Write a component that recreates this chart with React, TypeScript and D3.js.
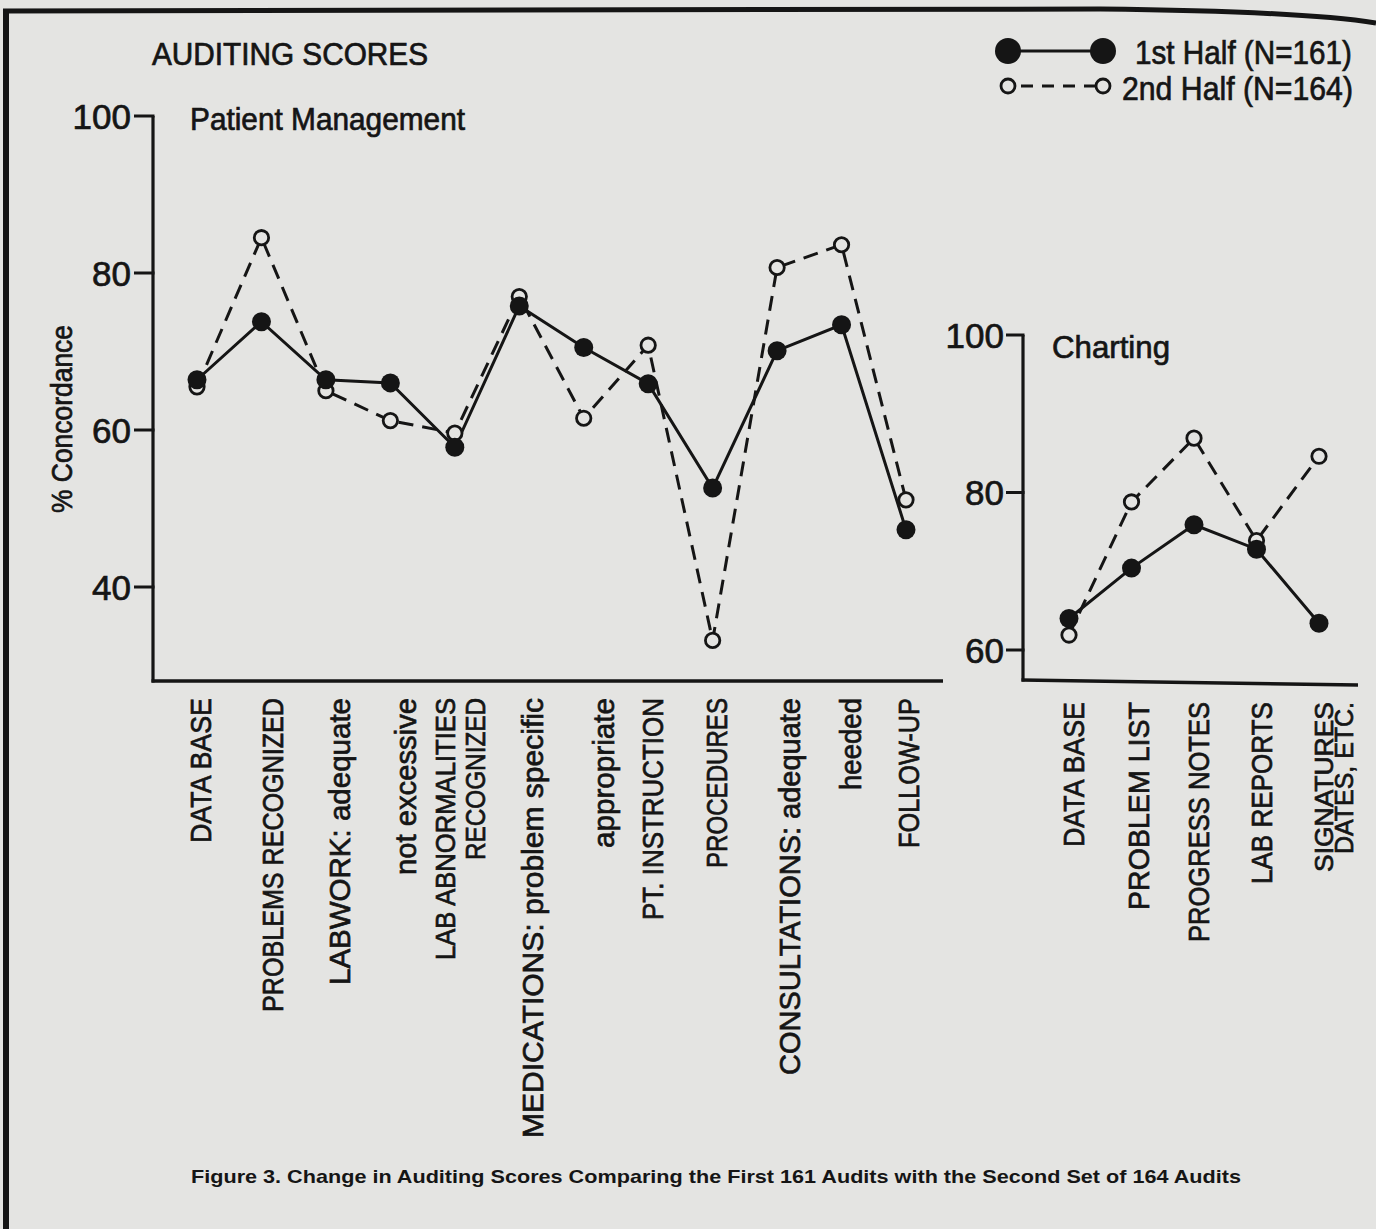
import React from 'react';
import * as d3 from 'd3';

// ---------- DATA ----------
const pmCategories = [
  'DATA BASE', 'PROBLEMS RECOGNIZED', 'LABWORK: adequate', 'not excessive',
  'LAB ABNORMALITIES RECOGNIZED', 'MEDICATIONS: problem specific', 'appropriate',
  'PT. INSTRUCTION', 'PROCEDURES', 'CONSULTATIONS: adequate', 'heeded', 'FOLLOW-UP',
];
const pmLabelLines = [
  ['DATA BASE'], ['PROBLEMS RECOGNIZED'], ['LABWORK: adequate'], ['not excessive'],
  ['LAB ABNORMALITIES', 'RECOGNIZED'], ['MEDICATIONS: problem specific'], ['appropriate'],
  ['PT. INSTRUCTION'], ['PROCEDURES'], ['CONSULTATIONS: adequate'], ['heeded'], ['FOLLOW-UP'],
];
const pmFirstHalf = [66.4, 73.8, 66.4, 66.0, 57.8, 75.8, 70.5, 65.9, 52.6, 70.1, 73.4, 47.3];
const pmSecondHalf = [65.5, 84.5, 65.0, 61.2, 59.6, 77.0, 61.5, 70.8, 33.2, 80.7, 83.6, 51.1];
const pmTicks = [100, 80, 60, 40];

const chCategories = ['DATA BASE', 'PROBLEM LIST', 'PROGRESS NOTES', 'LAB REPORTS', 'SIGNATURES DATES, ETC.'];
const chLabelLines = [['DATA BASE'], ['PROBLEM LIST'], ['PROGRESS NOTES'], ['LAB REPORTS'], ['SIGNATURES', 'DATES, ETC.']];
const chFirstHalf = [64.0, 70.4, 75.9, 72.8, 63.4];
const chSecondHalf = [61.9, 78.8, 86.9, 73.9, 84.6];
const chTicks = [100, 80, 60];

const legendLabels = ['1st Half (N=161)', '2nd Half (N=164)'];
const titleText = 'AUDITING SCORES';
const pmTitle = 'Patient Management';
const chTitle = 'Charting';
const yAxisTitle = '% Concordance';
const caption = 'Figure 3. Change in Auditing Scores Comparing the First 161 Audits with the Second Set of 164 Audits';

// ---------- LAYOUT (positions / sizes only) ----------
const pmLabelLayout = [
  [{ dx: 3, len: 145, fs: 30 }], [{ dx: 11, len: 314, fs: 30 }], [{ dx: 13, len: 287, fs: 30 }], [{ dx: 15, len: 177, fs: 30 }],
  [{ dx: -10, len: 262, fs: 28 }, { dx: 20, len: 162, fs: 28 }], [{ dx: 13, len: 440, fs: 30 }], [{ dx: 19, len: 150, fs: 30 }],
  [{ dx: 4, len: 222, fs: 30 }], [{ dx: 4, len: 170, fs: 30 }], [{ dx: 12, len: 377, fs: 30 }], [{ dx: 9, len: 92, fs: 30 }], [{ dx: 2, len: 150, fs: 30 }],
];
const chLabelLayout = [
  [{ dx: 4, len: 145, fs: 30 }], [{ dx: 7, len: 208, fs: 30 }], [{ dx: 4, len: 240, fs: 30 }], [{ dx: 5, len: 182, fs: 30 }],
  [{ dx: 5, len: 170, fs: 25 }, { dx: 25, len: 152, fs: 25 }],
];

const BG = '#e4e4e2';
const INK = '#151515';
const FONT = '"Liberation Sans", Arial, sans-serif';
const TXT = { fill: INK, stroke: INK, strokeWidth: 0.7 };

function Panel({ cats, lines, layout, first, second, ticks, xRange, yDomain, yRange, axisX, axisTop, axisBottomY, axisRightX, axisRightY, tickLen, labelEnd, labelTop }) {
  const x = d3.scalePoint().domain(cats).range(xRange);
  const y = d3.scaleLinear().domain(yDomain).range(yRange);
  const line = d3.line().x((d) => d[0]).y((d) => d[1]);
  const p1 = cats.map((c, i) => [x(c), y(first[i])]);
  const p2 = cats.map((c, i) => [x(c), y(second[i])]);
  return (
    <g>
      {/* axes */}
      <line x1={axisX} y1={axisTop} x2={axisX} y2={axisBottomY + 1.5} stroke={INK} strokeWidth={3.2} />
      <line x1={axisX - 1.5} y1={axisBottomY} x2={axisRightX} y2={axisRightY} stroke={INK} strokeWidth={3.4} />
      {ticks.map((t) => (
        <g key={t}>
          <line x1={axisX - tickLen} x2={axisX + 1.5} y1={y(t)} y2={y(t)} stroke={INK} strokeWidth={3} />
          <text x={labelEnd} y={y(t)} dy="0.36em" textAnchor="end" fontSize={35} {...TXT} fontFamily={FONT}>{t}</text>
        </g>
      ))}
      {/* category labels */}
      {cats.map((c, i) => (
        <g key={c}>
          {lines[i].map((ln, j) => (
            <text key={j} transform={`translate(${x(c) + layout[i][j].dx},${labelTop}) rotate(-90)`}
              textAnchor="end" dy="0.36em" fontSize={layout[i][j].fs} {...TXT} fontFamily={FONT}
              textLength={layout[i][j].len} lengthAdjust="spacingAndGlyphs">{ln}</text>
          ))}
        </g>
      ))}
      {/* series */}
      <path d={line(p2)} fill="none" stroke={INK} strokeWidth={3} strokeDasharray="15 9" />
      <path d={line(p1)} fill="none" stroke={INK} strokeWidth={3} />
      {p2.map((p, i) => (
        <circle key={'o' + i} cx={p[0]} cy={p[1]} r={7.2} fill={BG} stroke={INK} strokeWidth={2.8} />
      ))}
      {p1.map((p, i) => (
        <circle key={'f' + i} cx={p[0]} cy={p[1]} r={9.5} fill={INK} />
      ))}
    </g>
  );
}

export default function App() {
  return (
    <svg width={1376} height={1229} style={{ position: 'absolute', left: 0, top: 0 }} fontFamily={FONT}>
      <rect x={0} y={0} width={1376} height={1229} fill={BG} />
      {/* frame */}
      <path d="M3,11 L1100,9 Q1300,11 1376,23" fill="none" stroke={INK} strokeWidth={5} />
      <line x1={6} y1={9} x2={6} y2={1229} stroke={INK} strokeWidth={6} />

      {/* titles */}
      <text x={152} y={65} fontSize={31} {...TXT} textLength={276} lengthAdjust="spacingAndGlyphs">{titleText}</text>
      <text x={190} y={130} fontSize={31} {...TXT} textLength={275} lengthAdjust="spacingAndGlyphs">{pmTitle}</text>
      <text x={1052} y={358} fontSize={32} {...TXT} textLength={118} lengthAdjust="spacingAndGlyphs">{chTitle}</text>
      <text transform="translate(72,419) rotate(-90)" textAnchor="middle" fontSize={30} {...TXT}
        textLength={188} lengthAdjust="spacingAndGlyphs">{yAxisTitle}</text>

      {/* legend */}
      <line x1={1008} y1={51} x2={1103} y2={51} stroke={INK} strokeWidth={3} />
      <circle cx={1008} cy={51} r={13} fill={INK} />
      <circle cx={1103} cy={51} r={13} fill={INK} />
      <text transform="translate(1135,64) scale(0.873,1)" fontSize={34} {...TXT}
        textLength={248.5} lengthAdjust="spacingAndGlyphs">{legendLabels[0]}</text>
      <line x1={1015} y1={86} x2={1096} y2={86} stroke={INK} strokeWidth={3} strokeDasharray="12 9" strokeDashoffset={-6} />
      <circle cx={1008} cy={86} r={7} fill={BG} stroke={INK} strokeWidth={2.8} />
      <circle cx={1103} cy={86} r={7} fill={BG} stroke={INK} strokeWidth={2.8} />
      <text transform="translate(1122,100) scale(0.889,1)" fontSize={34} {...TXT}
        textLength={259.8} lengthAdjust="spacingAndGlyphs">{legendLabels[1]}</text>

      <Panel cats={pmCategories} lines={pmLabelLines} layout={pmLabelLayout}
        first={pmFirstHalf} second={pmSecondHalf} ticks={pmTicks}
        xRange={[197, 906]} yDomain={[40, 100]} yRange={[587, 116]}
        axisX={153} axisTop={116} axisBottomY={681} axisRightX={943} axisRightY={681}
        tickLen={19} labelEnd={131} labelTop={698} />
      <Panel cats={chCategories} lines={chLabelLines} layout={chLabelLayout}
        first={chFirstHalf} second={chSecondHalf} ticks={chTicks}
        xRange={[1069, 1319]} yDomain={[60, 100]} yRange={[650, 335]}
        axisX={1023} axisTop={335} axisBottomY={680} axisRightX={1358} axisRightY={685}
        tickLen={17} labelEnd={1004} labelTop={702} />

      {/* caption */}
      <text x={191} y={1183} fontSize={19} fontWeight="bold" fill={INK} textLength={1050} lengthAdjust="spacingAndGlyphs">{caption}</text>
    </svg>
  );
}
